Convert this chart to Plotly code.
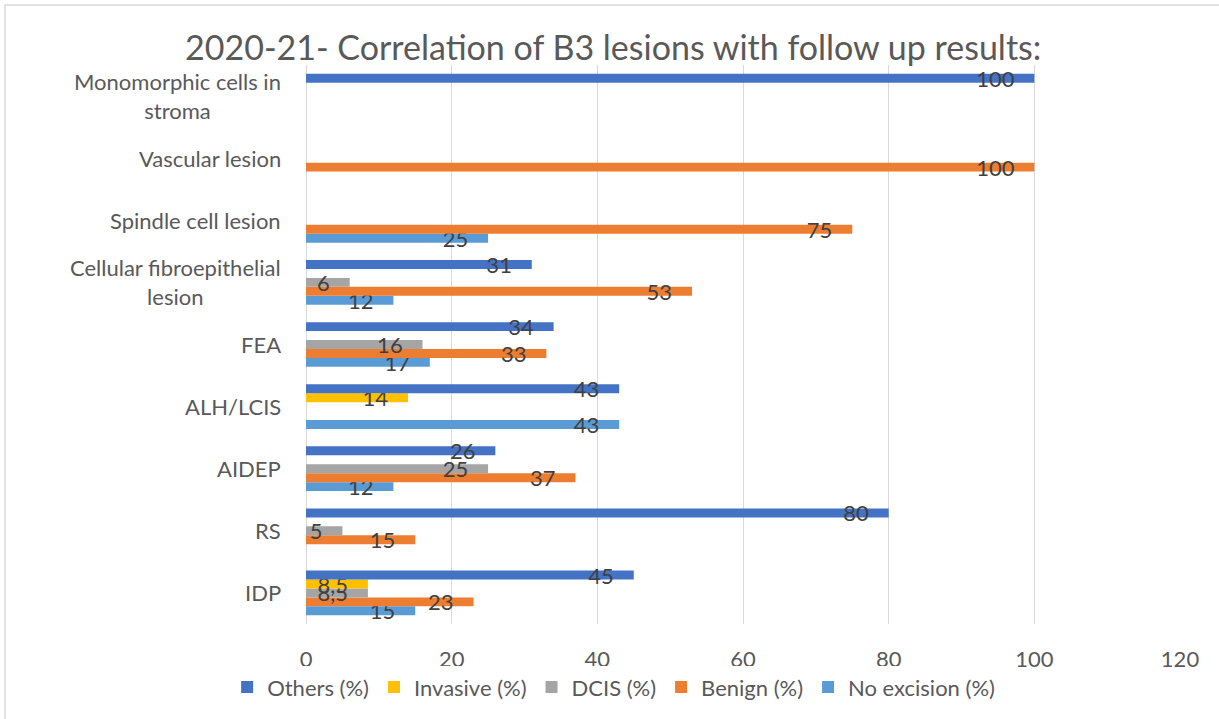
import plotly.graph_objects as go

categories = ["IDP", "RS", "AIDEP", "ALH/LCIS", "FEA",
              "Cellular fibroepithelial lesion", "Spindle cell lesion",
              "Vascular lesion", "Monomorphic cells in stroma"]
category_labels = ["IDP", "RS", "AIDEP", "ALH/LCIS", "FEA",
                   "Cellular fibroepithelial<br>lesion", "Spindle cell lesion",
                   "Vascular lesion", "Monomorphic cells in<br>stroma"]

others = [45, 80, 26, 43, 34, 31, None, None, 100]
invasive = [8.5, None, None, 14, None, None, None, None, None]
dcis = [8.5, 5, 25, None, 16, 6, None, None, None]
benign = [23, 15, 37, None, 33, 53, 75, 100, None]
no_excision = [15, None, 12, 43, 17, 12, 25, None, None]

x_ticks = [0, 20, 40, 60, 80, 100, 120]
title = "2020-21- Correlation of B3 lesions with follow up results:"

# drawn bottom-to-top within a group
series = [
    ("No excision (%)", no_excision, "#5B9BD5"),
    ("Benign (%)", benign, "#ED7D31"),
    ("DCIS (%)", dcis, "#A5A5A5"),
    ("Invasive (%)", invasive, "#FFC000"),
    ("Others (%)", others, "#4472C4"),
]

FONT = "Lato, Carlito, Calibri, sans-serif"
PAD = "\u00a0\u00a0\u00a0"


def fmt(v):
    if v is None:
        return ""
    s = ("%g" % v).replace(".", ",")
    return s + PAD


fig = go.Figure()
for name, vals, color in series:
    fig.add_trace(go.Bar(
        y=categories, x=vals, name=name, orientation="h",
        marker=dict(color=color, line=dict(width=0)),
        text=[fmt(v) for v in vals],
        textposition="inside", insidetextanchor="end",
        constraintext="none", textangle=0,
        textfont=dict(family=FONT, size=22, color="#404040"),
        cliponaxis=False,
        hoverinfo="x+name",
    ))

annotations = []
for cat, lab in zip(categories, category_labels):
    annotations.append(dict(
        x=-0.0265, xref="paper", y=cat, yref="y",
        text=lab, showarrow=False, xanchor="right", yanchor="middle",
        align="center", font=dict(family=FONT, size=22, color="#595959"),
    ))

fig.update_layout(
    width=1219, height=719,
    margin=dict(l=306, r=39, t=65, b=94),
    paper_bgcolor="white", plot_bgcolor="white",
    barmode="group", bargap=0.28, bargroupgap=0,
    title=dict(text=title, x=0.503, xref="container", xanchor="center",
               y=1 - 48 / 719, yref="container", yanchor="middle",
               font=dict(family=FONT, size=34, color="#595959")),
    xaxis=dict(range=[0, 120], tickvals=x_ticks, showgrid=True,
               gridcolor="#D9D9D9", gridwidth=1.3, zeroline=True,
               zerolinecolor="#D9D9D9", zerolinewidth=1.3, showline=False,
               ticks="", ticklabelstandoff=20,
               tickfont=dict(family=FONT, size=22, color="#595959")),
    yaxis=dict(categoryorder="array", categoryarray=categories,
               showticklabels=False, showgrid=False, zeroline=False,
               showline=False, ticks=""),
    legend=dict(orientation="h", traceorder="reversed",
                x=0.352, xanchor="center", y=-0.111, yanchor="middle",
                font=dict(family=FONT, size=22, color="#595959"),
                itemwidth=30),
    annotations=annotations,
    shapes=[dict(type="rect", xref="paper", yref="paper",
                 x0=(5 - 306) / 874, x1=(1230 - 306) / 874,
                 y0=(625 - 730) / 560, y1=(625 - 5) / 560,
                 line=dict(color="#D9D9D9", width=1.5), layer="below")],
    showlegend=True,
)

fig.write_html("out.html",
               config={"displayModeBar": False},
               post_script="document.body.style.margin='0';"
                           "document.body.style.overflow='hidden';")
